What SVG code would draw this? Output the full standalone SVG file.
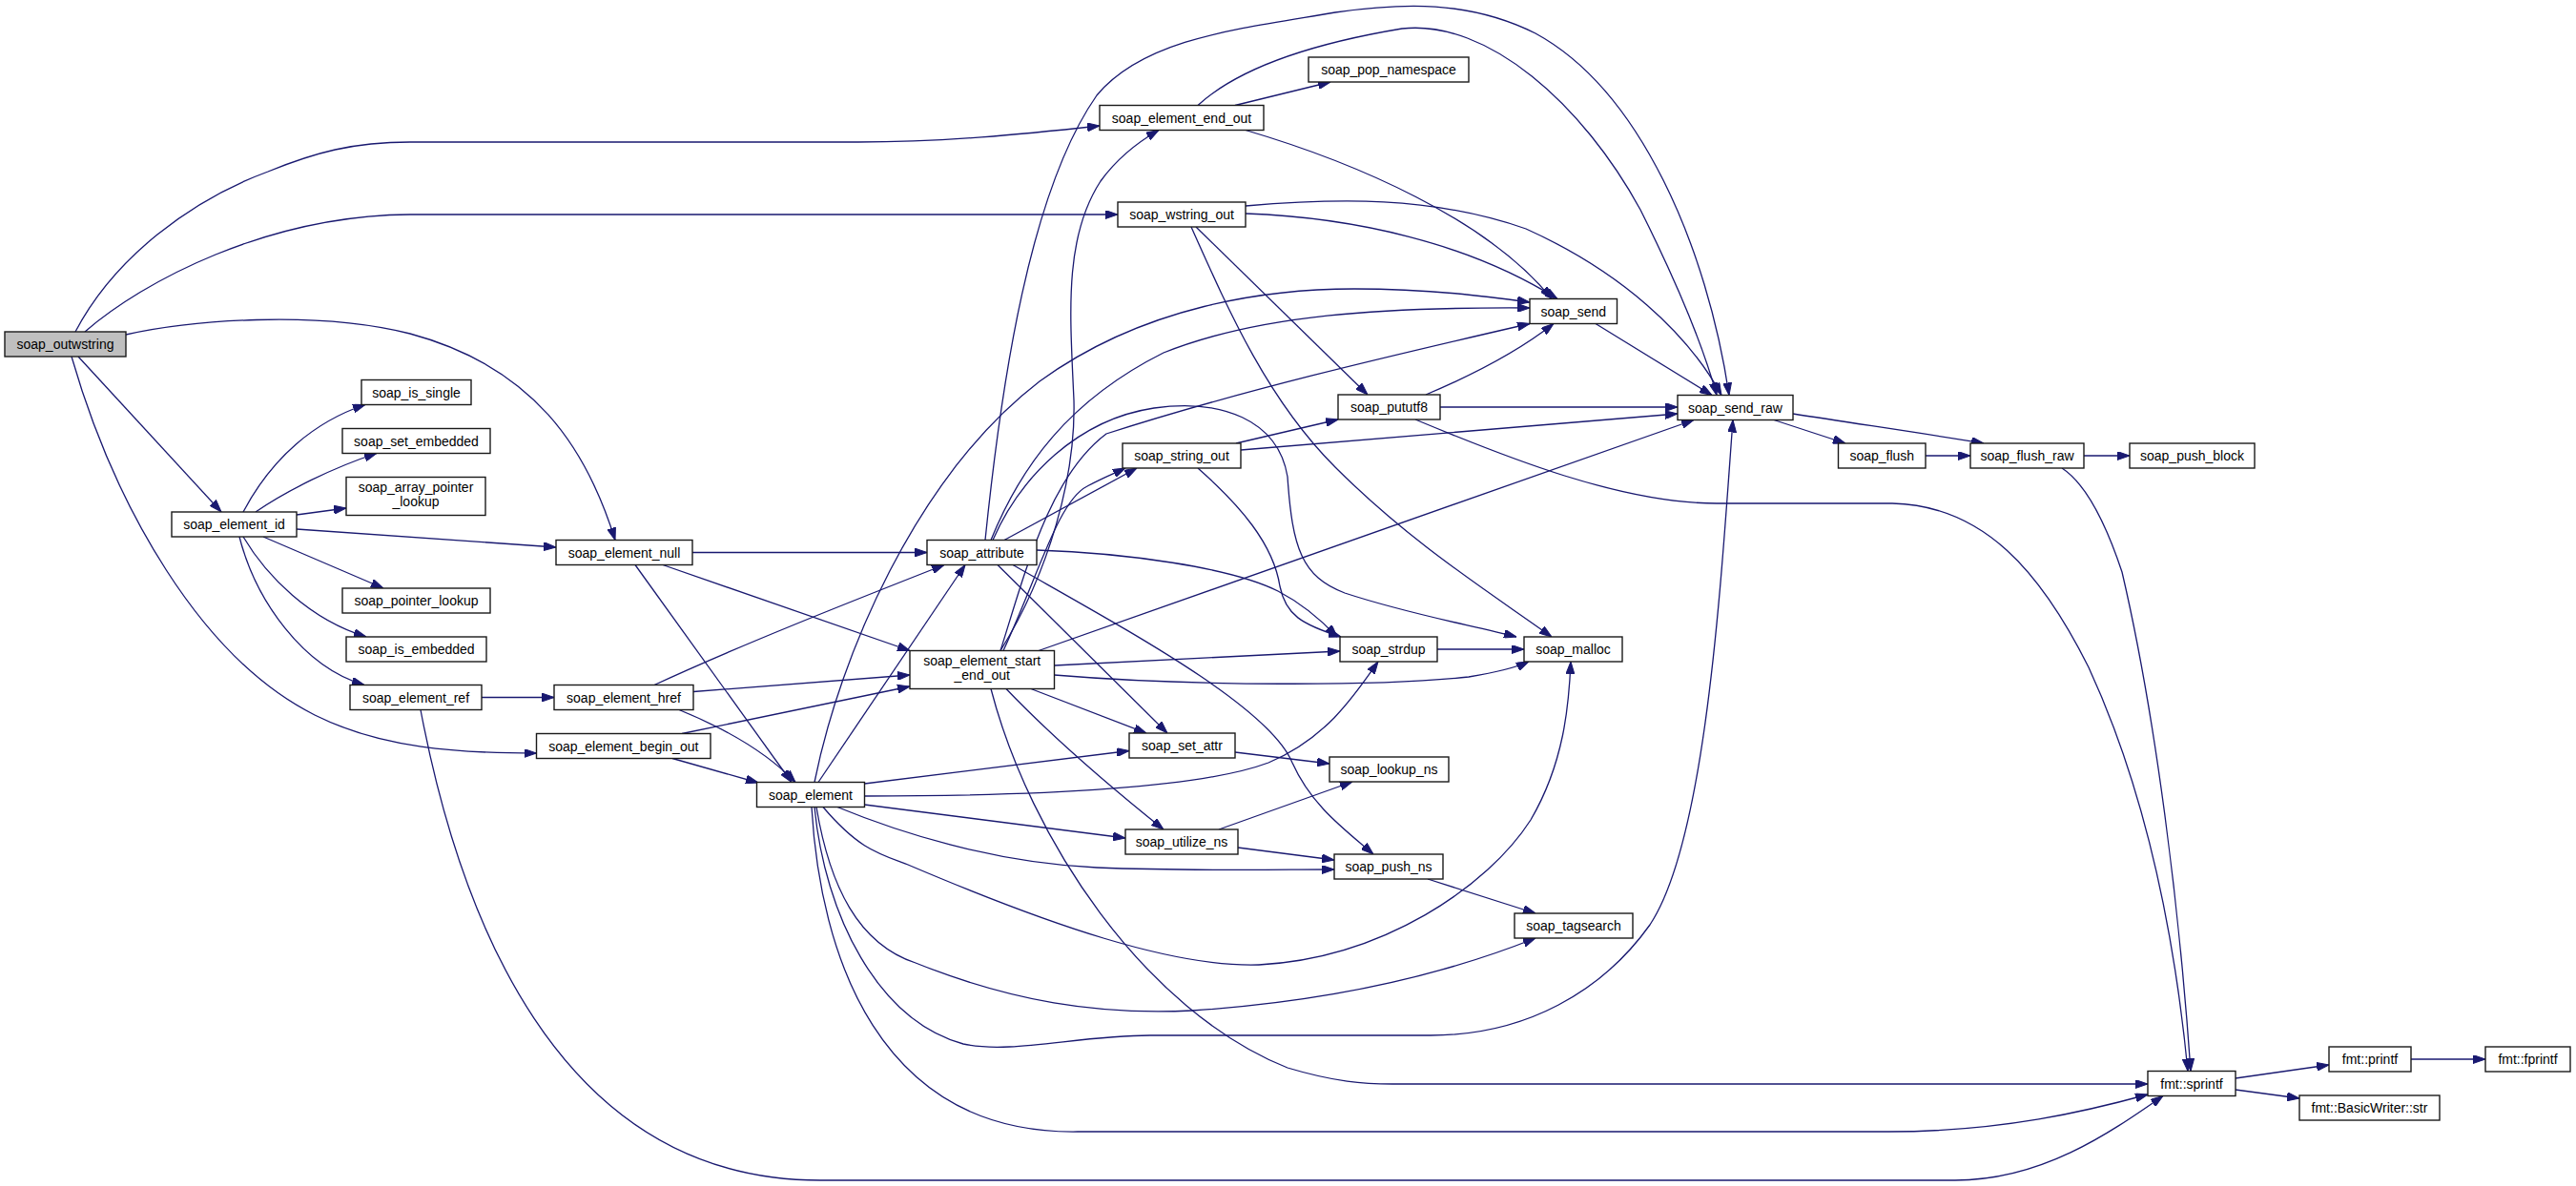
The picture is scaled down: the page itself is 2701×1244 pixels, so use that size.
<svg xmlns="http://www.w3.org/2000/svg" width="2701" height="1244" viewBox="0 0 2701 1244">
<defs>
<marker id="arr" viewBox="0 0 13 9" refX="13" refY="4.5" markerWidth="13" markerHeight="9" markerUnits="userSpaceOnUse" orient="auto">
<path d="M0,0 L13,4.5 L0,9 Z" fill="#191970" stroke="#191970" stroke-width="1"/>
</marker>
<style>
.node rect{fill:#ffffff;stroke:#1a1a1a;stroke-width:1.4}
.root rect{fill:#bfbfbf}
.node text{font-family:"Liberation Sans",Arial,sans-serif;font-size:14px;text-anchor:middle;fill:#000}
.edges path{fill:none;stroke:#191970;stroke-width:1.3;marker-end:url(#arr)}
</style>
</defs>
<rect x="0" y="0" width="2701" height="1244" fill="#ffffff"/>
<g class="edges" id="edges">
<path d="M79,348 C120,270 200,210 281,180 C330,160 370,149 430,149 L900,149 C990,149 1070,141 1153,132"/>
<path d="M89,348 C150,295 280,226 430,225 L1172,225"/>
<path d="M132,351 C200,336 330,325 430,350 C560,385 615,470 645,566.5"/>
<path d="M82,374 L232,537"/>
<path d="M75,374 C120,530 210,690 330,750 C400,785 480,790 562.5,790"/>
<path d="M255,537 C285,480 330,442 383,424.5"/>
<path d="M268,537 C300,515 350,490 395,475.5"/>
<path d="M311,540 L363,533"/>
<path d="M311,555 L583,574"/>
<path d="M276,563 L402,617"/>
<path d="M255,563 C280,605 325,650 384,668"/>
<path d="M251,563 C268,630 318,700 382,718.5"/>
<path d="M505,731.5 L581,731.5"/>
<path d="M441,744.5 C480,950 580,1238 860,1238 L2050,1238 C2140,1238 2210,1190 2268,1149.5"/>
<path d="M726,579.5 L972,579.5"/>
<path d="M695,592.5 L954,682.5"/>
<path d="M666,592.5 L830,820.5"/>
<path d="M686,718.5 C780,675 900,628 990,592.5"/>
<path d="M727,725.5 L954,708"/>
<path d="M712,744.5 C750,760 800,785 834,820.5"/>
<path d="M715,769.5 L954,720"/>
<path d="M705,795.5 L795,821"/>
<path d="M858,820.5 L1012,592.5"/>
<path d="M854,820.5 C880,690 960,500 1090,400 C1200,320 1330,303 1420,303 C1500,303 1560,311 1604,317"/>
<path d="M906.5,822 L1184,787.5"/>
<path d="M906.5,835 C1050,835 1250,830 1330,800 C1390,775 1420,730 1445,694"/>
<path d="M906.5,844 L1180,879"/>
<path d="M878,846.5 C940,872 1040,905 1150,910 C1250,914 1340,912 1399,912"/>
<path d="M863,846.5 C900,890 920,895 952,907 C1100,970 1230,1015 1320,1012 C1450,1005 1560,930 1605,860 C1640,800 1645,740 1647,694"/>
<path d="M856,846.5 C870,930 900,990 960,1010 C1060,1050 1150,1065 1250,1060 C1400,1050 1520,1020 1610,984"/>
<path d="M854,846.5 C865,960 920,1070 1010,1095 C1060,1106 1130,1086 1206,1086 L1500,1086 C1600,1086 1680,1040 1730,970 C1790,880 1805,600 1817,440.5"/>
<path d="M851,846.5 C860,1000 920,1190 1130,1187 L1980,1187 C2100,1187 2190,1165 2252,1148"/>
<path d="M1033,566.5 C1050,400 1080,200 1150,100 C1200,40 1300,30 1400,13 C1470,3 1540,0 1610,35 C1720,95 1790,260 1813,414.5"/>
<path d="M1039,566.5 C1070,490 1120,420 1220,370 C1320,330 1450,322 1604,323"/>
<path d="M1053,566.5 L1192,491"/>
<path d="M1041,566.5 C1070,500 1130,440 1210,428 C1280,418 1340,440 1350,500 C1355,575 1365,605 1410,622 C1480,645 1540,655 1590,668"/>
<path d="M1087,577 C1180,580 1290,595 1340,620 C1365,633 1385,650 1402,668"/>
<path d="M1046,592.5 L1224,769"/>
<path d="M1062,592.5 C1180,660 1330,740 1355,800 C1375,845 1410,870 1440,896"/>
<path d="M1049,682.5 C1100,600 1128,500 1126,420 C1122,330 1115,250 1154,190 C1172,165 1195,148 1215,136.5"/>
<path d="M1052,682.5 C1090,600 1110,525 1140,510 C1155,502 1165,498 1180,491"/>
<path d="M1049,682.5 C1075,600 1100,500 1160,455 C1300,410 1450,375 1604,339.5"/>
<path d="M1089,682.5 L1776,440.5"/>
<path d="M1105.5,698 L1405,683"/>
<path d="M1105.5,708 C1250,720 1450,720 1540,710 C1570,705 1590,700 1603,694"/>
<path d="M1081,722.5 L1202,769"/>
<path d="M1055,722.5 C1110,780 1170,830 1220,870"/>
<path d="M1039,722.5 C1080,880 1200,1060 1350,1120 C1400,1135 1430,1137 1460,1137 L2252,1137"/>
<path d="M1295,110.5 L1395,86"/>
<path d="M1306,136.5 C1420,170 1560,230 1627,313.5"/>
<path d="M1256,110.5 C1300,70 1380,45 1470,30 C1560,20 1660,110 1720,220 C1760,300 1785,360 1800,414.5"/>
<path d="M1306,224 C1420,228 1540,255 1633,313.5"/>
<path d="M1306,216 C1400,208 1500,205 1600,240 C1700,285 1770,350 1805,414.5"/>
<path d="M1254,238 L1434,414"/>
<path d="M1249,238 C1290,330 1330,420 1400,490 C1480,570 1560,620 1627,668"/>
<path d="M1296,465 L1403,440"/>
<path d="M1301,472 L1759,434"/>
<path d="M1256,491 C1300,530 1335,570 1342,615 C1348,645 1365,655 1406,668"/>
<path d="M1495,414 C1540,395 1590,370 1629,339.5"/>
<path d="M1510,427 L1759,427"/>
<path d="M1484,440 C1580,480 1700,528 1800,528 L1984,528 C2080,530 2140,600 2190,700 C2250,830 2280,980 2294,1123.5"/>
<path d="M1673,339.5 L1795,414.5"/>
<path d="M1860,440.5 L1935,465"/>
<path d="M1880,434 C1950,445 2020,455 2080,465"/>
<path d="M2019,478 L2066,478"/>
<path d="M2185,478 L2233,478"/>
<path d="M2162,491 C2185,506 2205,540 2225,600 C2260,750 2285,950 2297,1123.5"/>
<path d="M1507,681 L1598,681"/>
<path d="M1295,789 L1394,801"/>
<path d="M1278,870 L1418,820"/>
<path d="M1298,889 L1399,902"/>
<path d="M1497,922 L1610,958"/>
<path d="M2344,1131 L2442,1117"/>
<path d="M2344,1143 L2411,1152"/>
<path d="M2528,1111 L2606,1111"/>
</g>
<g class="node root" id="n_soap_outwstring"><rect x="5" y="348" width="127" height="26"/><text x="68.5" y="366">soap_outwstring</text></g>
<g class="node" id="n_soap_element_id"><rect x="180" y="537" width="131" height="26"/><text x="245.5" y="555">soap_element_id</text></g>
<g class="node" id="n_soap_is_single"><rect x="379" y="398.5" width="115" height="26"/><text x="436.5" y="416.5">soap_is_single</text></g>
<g class="node" id="n_soap_set_embedded"><rect x="359" y="449.5" width="155" height="26"/><text x="436.5" y="467.5">soap_set_embedded</text></g>
<g class="node" id="n_soap_array_pointer_lookup"><rect x="363" y="500.5" width="146" height="40"/><text x="436" y="516">soap_array_pointer</text><text x="436" y="531">_lookup</text></g>
<g class="node" id="n_soap_pointer_lookup"><rect x="359" y="617" width="155" height="26"/><text x="436.5" y="635">soap_pointer_lookup</text></g>
<g class="node" id="n_soap_is_embedded"><rect x="363" y="668" width="147" height="26"/><text x="436.5" y="686">soap_is_embedded</text></g>
<g class="node" id="n_soap_element_ref"><rect x="367" y="718.5" width="138" height="26"/><text x="436" y="736.5">soap_element_ref</text></g>
<g class="node" id="n_soap_element_null"><rect x="583" y="566.5" width="143" height="26"/><text x="654.5" y="584.5">soap_element_null</text></g>
<g class="node" id="n_soap_element_href"><rect x="581" y="718.5" width="146" height="26"/><text x="654" y="736.5">soap_element_href</text></g>
<g class="node" id="n_soap_element_begin_out"><rect x="562.5" y="769.5" width="182.5" height="26"/><text x="653.75" y="787.5">soap_element_begin_out</text></g>
<g class="node" id="n_soap_element"><rect x="793.5" y="820.5" width="113" height="26"/><text x="850" y="838.5">soap_element</text></g>
<g class="node" id="n_soap_attribute"><rect x="972" y="566.5" width="115" height="26"/><text x="1029.5" y="584.5">soap_attribute</text></g>
<g class="node" id="n_soap_element_start_end_out"><rect x="954" y="682.5" width="151.5" height="40"/><text x="1029.75" y="698">soap_element_start</text><text x="1029.75" y="713">_end_out</text></g>
<g class="node" id="n_soap_element_end_out"><rect x="1153" y="110.5" width="172" height="26"/><text x="1239" y="128.5">soap_element_end_out</text></g>
<g class="node" id="n_soap_pop_namespace"><rect x="1372" y="60" width="168" height="26"/><text x="1456" y="78">soap_pop_namespace</text></g>
<g class="node" id="n_soap_wstring_out"><rect x="1172" y="212" width="134" height="26"/><text x="1239" y="230">soap_wstring_out</text></g>
<g class="node" id="n_soap_string_out"><rect x="1177" y="465" width="124" height="26"/><text x="1239" y="483">soap_string_out</text></g>
<g class="node" id="n_soap_set_attr"><rect x="1184" y="769" width="111" height="26"/><text x="1239.5" y="787">soap_set_attr</text></g>
<g class="node" id="n_soap_utilize_ns"><rect x="1180" y="870" width="118" height="26"/><text x="1239" y="888">soap_utilize_ns</text></g>
<g class="node" id="n_soap_send"><rect x="1604" y="313.5" width="91.5" height="26"/><text x="1649.75" y="331.5">soap_send</text></g>
<g class="node" id="n_soap_pututf8"><rect x="1403" y="414" width="107" height="26"/><text x="1456.5" y="432">soap_pututf8</text></g>
<g class="node" id="n_soap_strdup"><rect x="1405" y="668" width="102" height="26"/><text x="1456" y="686">soap_strdup</text></g>
<g class="node" id="n_soap_lookup_ns"><rect x="1394" y="794" width="125" height="26"/><text x="1456.5" y="812">soap_lookup_ns</text></g>
<g class="node" id="n_soap_push_ns"><rect x="1399" y="896" width="114" height="26"/><text x="1456" y="914">soap_push_ns</text></g>
<g class="node" id="n_soap_malloc"><rect x="1598" y="668" width="103" height="26"/><text x="1649.5" y="686">soap_malloc</text></g>
<g class="node" id="n_soap_tagsearch"><rect x="1588" y="958" width="124" height="26"/><text x="1650" y="976">soap_tagsearch</text></g>
<g class="node" id="n_soap_send_raw"><rect x="1759" y="414.5" width="121" height="26"/><text x="1819.5" y="432.5">soap_send_raw</text></g>
<g class="node" id="n_soap_flush"><rect x="1927.5" y="465" width="91.5" height="26"/><text x="1973.25" y="483">soap_flush</text></g>
<g class="node" id="n_soap_flush_raw"><rect x="2066" y="465" width="119" height="26"/><text x="2125.5" y="483">soap_flush_raw</text></g>
<g class="node" id="n_soap_push_block"><rect x="2233" y="465" width="131" height="26"/><text x="2298.5" y="483">soap_push_block</text></g>
<g class="node" id="n_fmt_sprintf"><rect x="2252" y="1123.5" width="92" height="26"/><text x="2298" y="1141.5">fmt::sprintf</text></g>
<g class="node" id="n_fmt_printf"><rect x="2442" y="1098" width="86" height="26"/><text x="2485" y="1116">fmt::printf</text></g>
<g class="node" id="n_fmt_fprintf"><rect x="2606" y="1098" width="89" height="26"/><text x="2650.5" y="1116">fmt::fprintf</text></g>
<g class="node" id="n_fmt_BasicWriter_str"><rect x="2411" y="1149" width="147" height="26"/><text x="2484.5" y="1167">fmt::BasicWriter::str</text></g>
</svg>
